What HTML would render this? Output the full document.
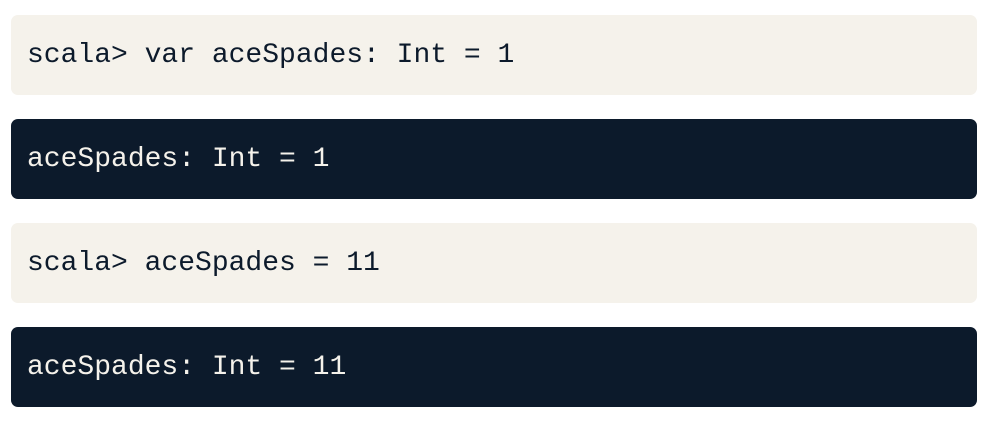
<!DOCTYPE html>
<html><head><style>
body{margin:0;width:998px;height:424px;background:#fff;position:relative;overflow:hidden}
.b{position:absolute;left:11px;width:966px;height:80px;border-radius:7px;display:flex;align-items:center;padding-left:16px;box-sizing:border-box;font-family:"Liberation Mono",monospace;font-size:28px;white-space:pre}
.l{background:#f5f2eb;color:#0c1a2b}
.d{background:#0c1a2b;color:#f5f2eb}
</style></head><body>
<div class="b l" style="top:15px">scala&gt; var aceSpades: Int = 1</div>
<div class="b d" style="top:119px">aceSpades: Int = 1</div>
<div class="b l" style="top:223px">scala&gt; aceSpades = 11</div>
<div class="b d" style="top:327px">aceSpades: Int = 11</div>
</body></html>
